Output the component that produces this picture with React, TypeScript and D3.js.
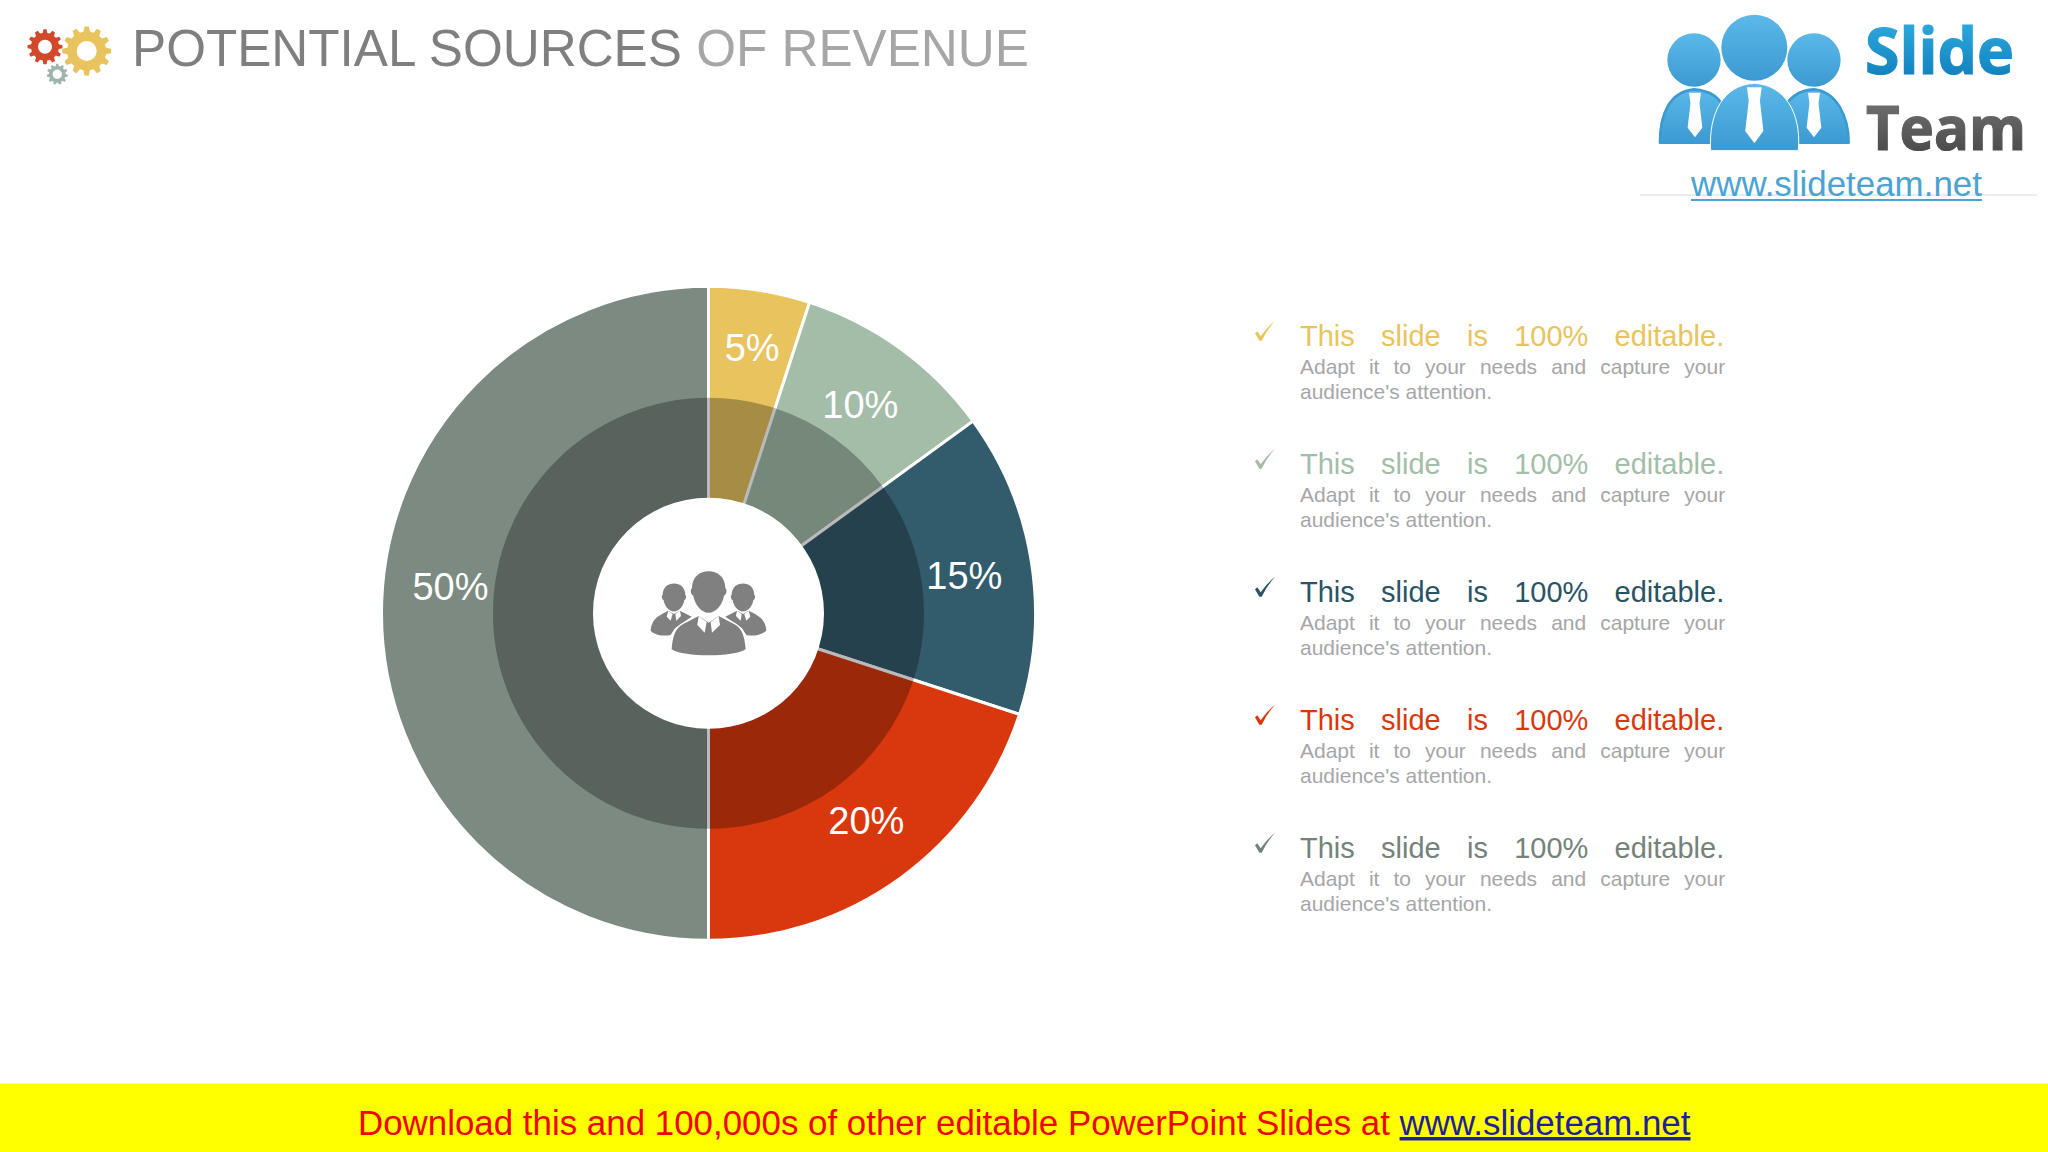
import * as d3 from "d3";

const WIDTH = 2048;
const HEIGHT = 1152;
const FONT = "'Liberation Sans', Arial, sans-serif";

const shares = [5, 10, 15, 20, 50];
const shareLabels = ["5%", "10%", "15%", "20%", "50%"];
const sliceColors = ["#E8C35E", "#A3BDA8", "#325B6B", "#D9380E", "#7C8A81"];
const bulletColors = ["#E8C35E", "#A3BDA8", "#2A5364", "#D9380E", "#75827A"];

const titleDark = "POTENTIAL SOURCES";
const titleLight = "OF REVENUE";
const bulletHead = "This slide is 100% editable.";
const bulletLine1 = "Adapt it to your needs and capture your";
const bulletLine2 = "audience's attention.";
const footerText = "Download this and 100,000s of other editable PowerPoint Slides at ";
const footerLink = "www.slideteam.net";

const CX = 708.5;
const CY = 613.3;
const OUTER_R = 327;
const MID_R = 215.5;
const INNER_R = 115.5;
const LABEL_R = 260;
// the slide's labels are hand placed, not exactly on the centroid
const labelNudge = [[3, -9], [-1, 1], [-1, 3], [5, -3], [2, -27]];

// x, y, outer radius, hole radius, teeth, colour
const gears = [
	{ x: 86.7, y: 51, r: 24.5, hole: 10, teeth: 12, color: "#E8C35E" },
	{ x: 45, y: 46.7, r: 17.5, hole: 7, teeth: 12, color: "#D2492A" },
	{ x: 57.3, y: 74.3, r: 10.5, hole: 4.7, teeth: 11, color: "#9DB5AE" },
];

function gearPath(r: number, hole: number, teeth: number) {
	const root = r * 0.8;
	const step = (Math.PI * 2) / teeth;
	const pts: [number, number][] = [];
	for (let i = 0; i < teeth; i++) {
		const a = i * step;
		pts.push([a - step * 0.32, root], [a - step * 0.17, r], [a + step * 0.17, r], [a + step * 0.32, root]);
	}
	const outline = d3.lineRadial().curve(d3.curveLinearClosed)(pts);
	const ring = d3.arc()({ innerRadius: 0, outerRadius: hole, startAngle: 0, endAngle: Math.PI * 2 });
	return `${outline} ${ring}`;
}

function Gears() {
	return (
		<g>
			{gears.map((g, i) => (
				<path key={i} transform={`translate(${g.x},${g.y})`} d={gearPath(g.r, g.hole, g.teeth)} fill={g.color} fillRule="evenodd" />
			))}
		</g>
	);
}

const headPath = "M-50 0 C-50 -35 -26 -51 0 -51 C26 -51 50 -35 50 0 C56 2 54 20 46 22 C42 48 22 73 0 73 C-22 73 -42 48 -46 22 C-54 20 -56 2 -50 0 Z";

function Person({ big }: { big: boolean }) {
	if (big) {
		return (
			<g>
				<path d="M275 508 C278 470 285 445 310 432 L356 408 L386 428 L416 408 L462 432 C487 445 494 470 497 508 C460 532 312 532 275 508 Z" fill="#808080" stroke="#fff" strokeWidth={9} paintOrder="stroke" />
				<path transform="translate(386,325)" d={headPath} fill="#808080" />
				<path d="M356 408 L352 435 L374 458 L380 426 Z M416 408 L420 435 L396 458 L392 426 Z" fill="#fff" />
			</g>
		);
	}
	return (
		<g>
			<path d="M212 452 C214 425 225 410 265 392 L282 402 L300 392 L335 410 L285 445 L272 465 C250 470 225 465 212 452 Z" fill="#808080" />
			<path transform="translate(282,345) scale(0.68)" d={headPath} fill="#808080" />
			<path d="M265 392 L260 410 L272 422 L278 402 Z M300 392 L303 408 L289 422 L286 402 Z" fill="#fff" />
		</g>
	);
}

function CenterIcon() {
	return (
		<g transform="translate(580,480) scale(0.3333)">
			<Person big={false} />
			<g transform="translate(771,0) scale(-1,1)">
				<Person big={false} />
			</g>
			<Person big />
		</g>
	);
}

function Logo() {
	const tie = "M-21 0 H21 L16 32 L26 105 L0 134 L-26 105 L-16 32 Z";
	return (
		<g>
			<g transform="translate(1620,0) scale(0.3333)">
				<circle cx={222} cy={180} r={80} fill="url(#logoBlue)" />
				<circle cx={582} cy={180} r={80} fill="url(#logoBlue)" />
				<circle cx={403} cy={143} r={99} fill="url(#logoBlue)" />
				<path d="M120 428 C120 340 150 275 222 268 C280 272 305 300 315 335 L315 428 Z" fill="url(#logoBlue)" stroke="#3C9AD2" strokeWidth={8} strokeLinejoin="round" />
				<path d="M490 330 C510 285 545 270 582 268 C650 275 686 350 686 428 L490 428 Z" fill="url(#logoBlue)" stroke="#3C9AD2" strokeWidth={8} strokeLinejoin="round" />
				<path d="M272 452 C265 340 310 255 403 250 C495 255 545 340 535 452 Z" fill="url(#logoBlue)" stroke="#fff" strokeWidth={3} strokeLinejoin="round" />
				<path transform="translate(225,278) scale(0.85,1)" d={tie} fill="#fff" />
				<path transform="translate(403,262) scale(1.05,1.25)" d={tie} fill="#fff" />
				<path transform="translate(582,278) scale(0.85,1)" d={tie} fill="#fff" />
			</g>
			<text x={1865} y={74} fontFamily="'Open Sans', sans-serif" fontWeight={700} fontSize={64} textLength={149} lengthAdjust="spacingAndGlyphs" fill="url(#logoSlide)" stroke="url(#logoSlide)" strokeWidth={1.2}>Slide</text>
			<text x={1866} y={150} fontFamily="'Open Sans', sans-serif" fontWeight={700} fontSize={60} textLength={160} lengthAdjust="spacingAndGlyphs" fill="url(#logoTeam)" stroke="url(#logoTeam)" strokeWidth={1.2}>Team</text>
			<line x1={1640} x2={2037} y1={195} y2={195} stroke="#d5d9de" strokeWidth={1.2} />
			<text x={1691} y={195.5} fontFamily={FONT} fontSize={34.9} fill="#4BA3D3">www.slideteam.net</text>
			<line x1={1691} x2={1982} y1={200} y2={200} stroke="#4BA3D3" strokeWidth={2.2} />
		</g>
	);
}

function Bullet({ index }: { index: number }) {
	const y = index * 128;
	const color = bulletColors[index];
	return (
		<g transform={`translate(0,${y})`}>
			<path transform="translate(1240,308) scale(0.3333)" d="M45 76 L52 70 L62 85 Q80 58 105 38 Q80 66 65 98 L58 98 Z" fill={color} />
			<text x={1300} y={346} fontFamily={FONT} fontSize={29} fill={color} wordSpacing={18.2}>{bulletHead}</text>
			<text x={1300} y={374} fontFamily={FONT} fontSize={21} fill="#a6a6a8" wordSpacing={8.2}>{bulletLine1}</text>
			<text x={1300} y={399} fontFamily={FONT} fontSize={21} fill="#a6a6a8">{bulletLine2}</text>
		</g>
	);
}

export default function App() {
	const pie = d3.pie<number>().sort(null).value((d) => d)(shares);
	// arcs start a little under the white centre so their stroke does not ring it
	const outerArc = d3.arc<d3.PieArcDatum<number>>().innerRadius(INNER_R - 4).outerRadius(OUTER_R);
	const innerArc = d3.arc<d3.PieArcDatum<number>>().innerRadius(INNER_R - 4).outerRadius(MID_R);
	const labelArc = d3.arc<d3.PieArcDatum<number>>().innerRadius(LABEL_R).outerRadius(LABEL_R);

	return (
		<svg width={WIDTH} height={HEIGHT} viewBox={`0 0 ${WIDTH} ${HEIGHT}`} style={{ position: "absolute", left: 0, top: 0, display: "block", background: "#fff" }}>
			<defs>
				<linearGradient id="logoBlue" x1="0" y1="0" x2="0" y2="1">
					<stop offset="0" stopColor="#5BB8E8" />
					<stop offset="1" stopColor="#3C9AD2" />
				</linearGradient>
				<linearGradient id="logoSlide" x1="0" y1="0" x2="0" y2="1">
					<stop offset="0" stopColor="#35B4E6" />
					<stop offset="1" stopColor="#0A76B4" />
				</linearGradient>
				<linearGradient id="logoTeam" x1="0" y1="0" x2="0" y2="1">
					<stop offset="0" stopColor="#7a7a7a" />
					<stop offset="1" stopColor="#404040" />
				</linearGradient>
			</defs>

			<Gears />
			<text x={132} y={65.5} fontFamily={FONT} fontSize={51.2} fill="#7f7f7f">
				{titleDark}
				<tspan fill="#a6a6a6"> {titleLight}</tspan>
			</text>

			<Logo />

			<g transform={`translate(${CX},${CY})`}>
				{pie.map((d, i) => (
					<path key={i} d={outerArc(d) ?? ""} fill={sliceColors[i]} stroke="#fff" strokeWidth={3} />
				))}
				{pie.map((d, i) => (
					<path key={i} d={innerArc(d) ?? ""} fill="#000" fillOpacity={0.28} />
				))}
				<circle r={INNER_R} fill="#fff" />
				{pie.map((d, i) => {
					const [lx, ly] = labelArc.centroid(d);
					return (
						<text key={i} x={lx + labelNudge[i][0]} y={ly + labelNudge[i][1]} dy="0.36em" textAnchor="middle" fontFamily={FONT} fontSize={38} fill="#fff">
							{shareLabels[i]}
						</text>
					);
				})}
			</g>
			<CenterIcon />

			{shares.map((_, i) => (
				<Bullet key={i} index={i} />
			))}

			<rect x={0} y={1083.5} width={WIDTH} height={HEIGHT - 1083.5} fill="#ffff00" />
			<text x={358} y={1135} fontFamily={FONT} fontSize={34.9} fill="#F40000">
				{footerText}
				<tspan fill="#1F1F99" textDecoration="underline">{footerLink}</tspan>
			</text>
		</svg>
	);
}
